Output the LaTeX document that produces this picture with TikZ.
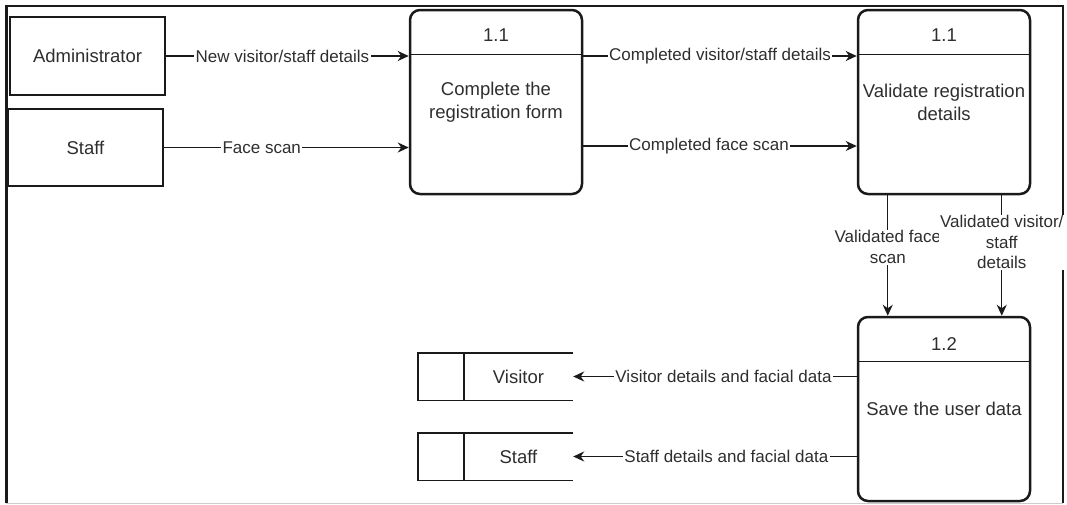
\documentclass[tikz,border=0pt]{standalone}
\usepackage{fontspec}
\setmainfont{Liberation Sans}
\usetikzlibrary{arrows.meta,calc}
\definecolor{ink}{HTML}{1A1A1A}
\definecolor{txt}{HTML}{2E2E2E}
\newcommand\dfdnode{\fontsize{18.5}{23}\selectfont}
\newcommand\dfdlabel{\fontsize{17}{20.5}\selectfont}
\begin{document}
\begin{tikzpicture}[x=1pt,y=-1pt,
  every node/.style={text=txt},
  entity/.style={draw=ink, line width=1.4pt, minimum width=155pt,
                 minimum height=78pt, inner sep=0pt, font=\dfdnode},
  proc/.style={draw=ink, line width=2.5pt, rounded corners=10pt,
               minimum width=172pt, minimum height=184pt, inner sep=0pt,
               align=center, font=\dfdnode},
  procid/.style={font=\dfdnode, inner sep=0pt},
  hdr/.style={draw=ink, line width=1.4pt},
  store/.style={minimum width=109pt, minimum height=47pt, inner sep=0pt,
                font=\dfdnode},
  storeline/.style={draw=ink, line width=1.4pt},
  flow/.style={draw=ink, line width=1.4pt,
               -{Stealth[length=11pt, width=10pt, inset=3.5pt]}},
  flowlabel/.style={fill=white, inner xsep=1.5pt, inner ysep=1pt,
                    font=\dfdlabel, align=center}
]
\useasboundingbox (0,0) rectangle (1067,504);

% outer frame
\draw[ink, line width=1.3pt] (6,503) -- (6,6) -- (1063,6) -- (1063,503);
\draw[ink, line width=2pt] (6.5,6) -- (6.5,503);
\draw[gray!40, line width=1pt] (6,503) -- (1063,503);

% external entities
\node[entity] (adm) at (87.5,56) {Administrator};
\node[entity, minimum height=77pt] (stf) at (85.5,147.5) {Staff};

% processes
\node[proc] (p1) at (496,102) {Complete the\\registration form};
\node[procid] (p1id) at ([yshift=-26pt]p1.north) {1.1};
\draw[hdr] ([yshift=-46pt]p1.north west) -- ([yshift=-46pt]p1.north east);

\node[proc] (p2) at (944,102) {Validate registration\\details};
\node[procid] (p2id) at ([yshift=-26pt]p2.north) {1.1};
\draw[hdr] ([yshift=-46pt]p2.north west) -- ([yshift=-46pt]p2.north east);

\node[proc] (p3) at (944,409) {Save the user data};
\node[procid] (p3id) at ([yshift=-28pt]p3.north) {1.2};
\draw[hdr] ([yshift=-46pt]p3.north west) -- ([yshift=-46pt]p3.north east);

% data stores (open on the right)
\node[store] (vis) at (518.5,376.5) {Visitor};
\draw[storeline] (vis.north east) -- (vis.north west) -- ++(-46,0)
                 |- (vis.south east);
\draw[storeline] (vis.north west) -- (vis.south west);

\node[store] (sst) at (518.5,456.5) {Staff};
\draw[storeline] (sst.north east) -- (sst.north west) -- ++(-46,0)
                 |- (sst.south east);
\draw[storeline] (sst.north west) -- (sst.south west);

% data flows
\draw[flow] (adm.east) -- (adm.east -| p1.west)
  node[flowlabel, pos=0.48] {New visitor/staff details};
\draw[flow] (stf.east) -- (stf.east -| p1.west)
  node[flowlabel, pos=0.40] {Face scan};
\draw[flow] (p1.east |- adm.east) -- (p2.west |- adm.east)
  node[flowlabel, pos=0.5] {Completed visitor/staff details};
\draw[flow] ([yshift=1.5pt]p1.east |- stf.east) -- ([yshift=1.5pt]p2.west |- stf.east)
  node[flowlabel, pos=0.46] {Completed face scan};
\draw[flow] ([xshift=31pt]p2.south west) -- ([xshift=31pt]p3.north west)
  node[flowlabel, pos=0.43] {Validated face\\scan};
\draw[flow] ([xshift=145pt]p2.south west) -- ([xshift=145pt]p3.north west)
  node[flowlabel, pos=0.39] {Validated visitor/\\staff\\details};
\draw[flow] (p3.west |- vis.east) -- (vis.east)
  node[flowlabel, pos=0.47] {Visitor details and facial data};
\draw[flow] (p3.west |- sst.east) -- (sst.east)
  node[flowlabel, pos=0.46] {Staff details and facial data};
\end{tikzpicture}
\end{document}
